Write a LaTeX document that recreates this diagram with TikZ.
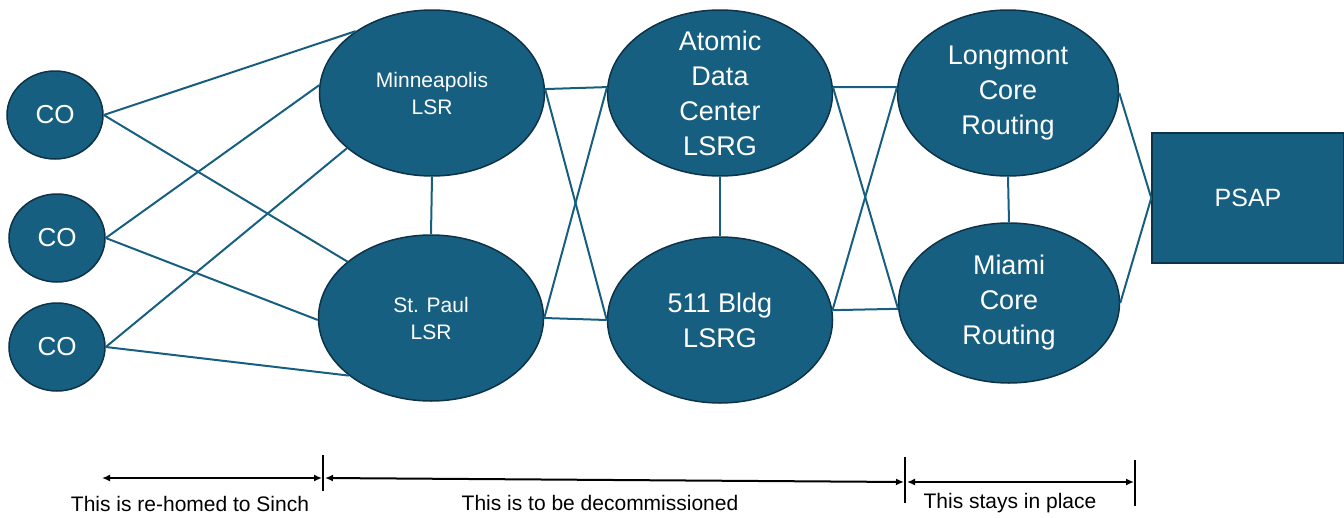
\documentclass[tikz,border=0pt]{standalone}
\usepackage{fontspec}
\setmainfont{Liberation Sans}
\usetikzlibrary{shapes.geometric,arrows.meta}

\definecolor{netblue}{HTML}{175F80}
\definecolor{netedge}{HTML}{0E3247}

\begin{document}
\begin{tikzpicture}[x=1pt, y=-1pt,
	co/.style={ellipse, fill=netblue, draw=netedge, line width=1.5pt, minimum width=96pt, minimum height=88pt, inner sep=0pt, text=white, font=\fontsize{26}{30}\selectfont},
	hub/.style={ellipse, fill=netblue, draw=netedge, line width=1.5pt, minimum width=225pt, minimum height=166pt, inner sep=0pt},
	big/.style={text=white, align=center, font=\fontsize{27}{35}\selectfont},
	small/.style={text=white, align=center, font=\fontsize{21}{27}\selectfont},
	link/.style={draw=netblue, line width=2pt},
	span/.style={{Latex[length=8pt,width=7pt]}-{Latex[length=8pt,width=7pt]}, line width=2pt},
	note/.style={font=\fontsize{21}{25}\selectfont}]
				\useasboundingbox (0,0) rectangle (1344,517);
				\begin{scope}
					\node[co] (co1) at (55,115) {CO};
					\node[co] (co2) at (57,238) {CO};
					\node[co] (co3) at (57,347) {CO};

					\node[hub, label={[small]center:{Minneapolis\\LSR}}] (mpls) at (432,93) {};
					\node[hub, label={[small]center:{St. Paul\\LSR}}] (stp) at (431,318) {};
					\node[hub, label={[big]center:{Atomic\\Data\\Center\\LSRG}}] (adc) at (720,93) {};
					\node[hub, label={[big]center:{511 Bldg\\LSRG}}] (bldg) at (720,320) {};
					\node[hub, minimum width=221pt, label={[big]center:{Longmont\\Core\\Routing}}] (lgm) at (1008,93) {};
					\node[hub, minimum width=221pt, minimum height=160pt, label={[big]center:{Miami\\Core\\Routing}}] (mia) at (1009,303) {};

					\node[rectangle, fill=netblue, draw=netedge, line width=1.5pt, minimum width=192pt, minimum height=130pt, text=white, font=\fontsize{25}{28}\selectfont] (psap) at (1248,198) {PSAP};

					\draw[link] (co1.east) -- (mpls.141); % CO to LSR
					\draw[link] (co1.east) -- (stp.146);
					\draw[link] (co2.east) -- (mpls.176);
					\draw[link] (co2.east) -- (stp.181);
					\draw[link] (co3.east) -- (mpls.213);
					\draw[link] (co3.east) -- (stp.215);

					\draw[link] (mpls.south) -- (stp.north);
					\draw[link] (mpls.2) -- (adc.177); % LSR to LSRG
					\draw[link] (mpls.2) -- (bldg.west);
					\draw[link] (stp.east) -- (adc.177);
					\draw[link] (stp.east) -- (bldg.west);

					\draw[link] (adc.south) -- (bldg.north);
					\draw[link] (adc.3) -- (lgm.177); % LSRG to core
					\draw[link] (adc.3) -- (mia.183);
					\draw[link] (bldg.5) -- (lgm.177);
					\draw[link] (bldg.5) -- (mia.183);

					\draw[link] (lgm.south) -- (mia.north);
					\draw[link] (lgm.east) -- (psap.west); % core to PSAP
					\draw[link] (mia.east) -- (psap.west);
				\end{scope}

				\begin{scope}
					\coordinate (s0) at (102,478);
					\coordinate (s1) at (322,478);
					\coordinate (d0) at (325,478);
					\coordinate (d1) at (904,482);
					\coordinate (k0) at (907,482);
					\coordinate (k1) at (1134,482);

					\draw[line width=2pt] (323,455) -- (323,491); % ticks
					\draw[line width=2pt] (905,457) -- (905,503);
					\draw[line width=2pt] (1135,460) -- (1135,506);

					\draw[span] (s0) -- (s1);
					\draw[span] (d0) -- (d1);
					\draw[span] (k0) -- (k1);

					\node[note] (n1) at (190,504) {This is re-homed to Sinch};
					\node[note] (n2) at (600,503) {This is to be decommissioned};
					\node[note] (n3) at (1010,503) {This stays in place};
				\end{scope}
			\end{tikzpicture}
\end{document}
